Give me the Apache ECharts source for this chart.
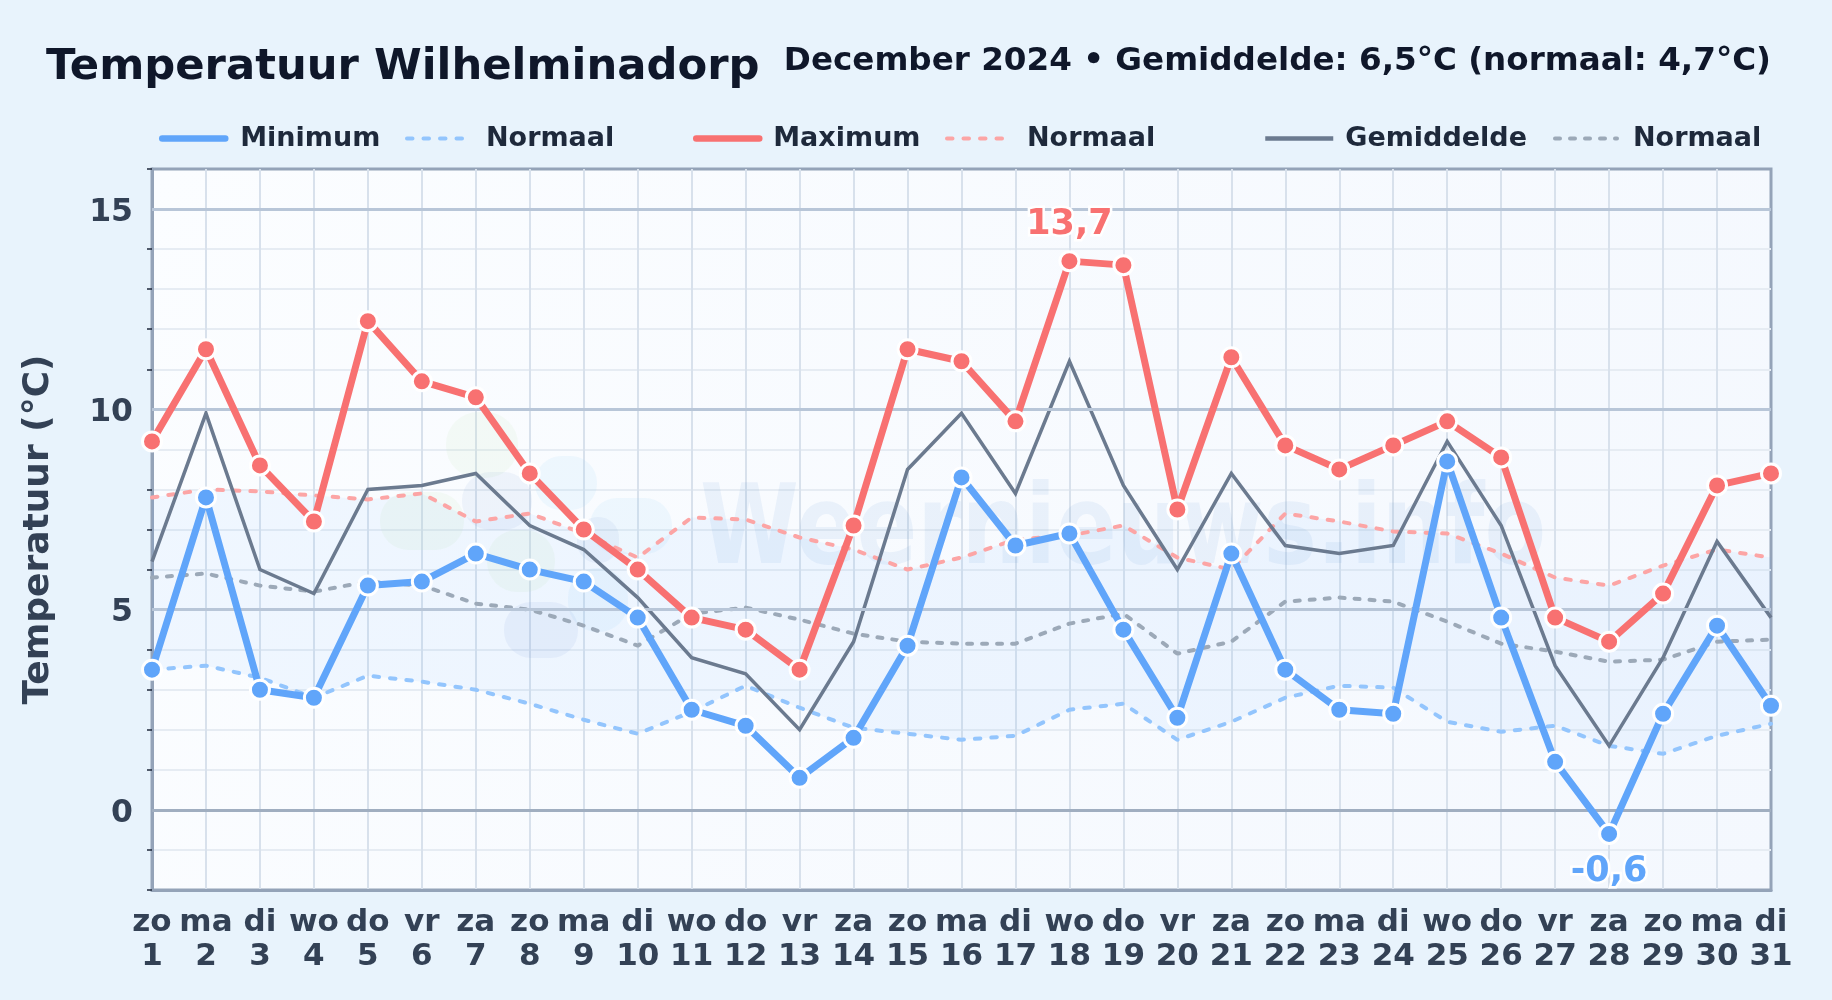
<!DOCTYPE html>
<html><head><meta charset="utf-8">
<style>html,body{margin:0;padding:0;background:#e8f3fc}#c{width:1832px;height:1000px}</style>
<script src="https://cdn.jsdelivr.net/npm/echarts@6/dist/echarts.min.js"></script>
</head><body><div id="c"></div>
<script>
const weekdays = ['zo','ma','di','wo','do','vr','za','zo','ma','di','wo','do','vr','za','zo','ma','di','wo','do','vr','za','zo','ma','di','wo','do','vr','za','zo','ma','di'];
const days = [1,2,3,4,5,6,7,8,9,10,11,12,13,14,15,16,17,18,19,20,21,22,23,24,25,26,27,28,29,30,31];
const tempMin = [3.5,7.8,3.0,2.8,5.6,5.7,6.4,6.0,5.7,4.8,2.5,2.1,0.8,1.8,4.1,8.3,6.6,6.9,4.5,2.3,6.4,3.5,2.5,2.4,8.7,4.8,1.2,-0.6,2.4,4.6,2.6];
const tempMax = [9.2,11.5,8.6,7.2,12.2,10.7,10.3,8.4,7.0,6.0,4.8,4.5,3.5,7.1,11.5,11.2,9.7,13.7,13.6,7.5,11.3,9.1,8.5,9.1,9.7,8.8,4.8,4.2,5.4,8.1,8.4];
const tempMean = [6.2,9.9,6.0,5.4,8.0,8.1,8.4,7.1,6.5,5.3,3.8,3.4,2.0,4.2,8.5,9.9,7.9,11.2,8.1,6.0,8.4,6.6,6.4,6.6,9.2,7.1,3.6,1.6,3.8,6.7,4.8];
const normMin = [3.5,3.6,3.3,2.8,3.35,3.2,3.0,2.65,2.25,1.9,2.45,3.1,2.55,2.05,1.9,1.75,1.85,2.5,2.65,1.75,2.2,2.8,3.1,3.05,2.2,1.95,2.1,1.6,1.4,1.85,2.15];
const normMax = [7.8,8.0,7.95,7.85,7.75,7.9,7.2,7.4,6.9,6.3,7.3,7.25,6.8,6.5,6.0,6.3,6.75,6.85,7.1,6.3,6.0,7.4,7.2,6.95,6.9,6.4,5.8,5.6,6.1,6.5,6.3];
const normMean = [5.8,5.9,5.6,5.45,5.7,5.6,5.15,5.0,4.6,4.1,4.9,5.05,4.75,4.4,4.2,4.15,4.15,4.65,4.9,3.9,4.2,5.2,5.3,5.2,4.7,4.15,3.95,3.7,3.75,4.2,4.25];
const majorLines = [5,10,15];
const zeroLine = [0];
const yMinorTicks = [-2,-1,1,2,3,4,6,7,8,9,11,12,13,14,16];
const yLabels = [0,5,10,15];

const FONT = '"DejaVu Sans"';
const BLUE='#60a5fa', RED='#f87171', GREY='#6b7a8f';
const DASH_A=[5.5,11], DASH_B=[5,10];
const chart = echarts.init(document.getElementById('c'), null, {renderer:'canvas'});
const cats = weekdays.map((w,i)=>w+'\n'+days[i]);
const fmt = v => String(v).replace('.',',');
function marked(arr, idx, color, pos, dist){
  return arr.map((v,i)=> i===idx ? {value:v, label:{show:true, position:pos, distance:dist, formatter:fmt(v), fontFamily:FONT, fontWeight:'bold', fontSize:35, color:color, textBorderColor:'#ffffff', textBorderWidth:5}} : v);
}
const maxIdx = tempMax.indexOf(Math.max(...tempMax));
const minIdx = tempMin.indexOf(Math.min(...tempMin));
function main(name,data,color,z){
  return {name,type:'line',data,z,clip:false,symbol:'circle',symbolSize:19,showSymbol:true,
    lineStyle:{color,width:7,cap:'round',join:'round'},
    itemStyle:{color,borderColor:'#fff',borderWidth:3},emphasis:{disabled:true},animation:false};
}
function dashed(name,data,color,width,dash){
  return {name,type:'line',data,z:3,clip:false,symbol:'none',
    lineStyle:{color,width,type:dash,cap:'round'},itemStyle:{color},emphasis:{disabled:true},animation:false};
}
const legendTop = 125;
// name, icon x, icon width, line width, cap, text x
const legs = [
  ['Minimum',159,63,6.5,'round',237],
  ['Normaal ',405,56,4,'round',484],
  ['Maximum',693,63,6.5,'round',770],
  ['Normaal  ',945,56,4,'round',1025],
  ['Gemiddelde',1263,68,4.5,'butt',1343],
  ['Normaal   ',1553,62,4,'round',1631]
];
// decorative logo behind the data: x,y,w,h,color
const logoBlobs = [
  [446,412,72,66,'rgba(190,225,165,0.10)'],
  [380,492,84,58,'rgba(190,225,165,0.10)'],
  [487,530,68,62,'rgba(190,225,165,0.10)'],
  [535,456,62,54,'rgba(150,205,250,0.11)'],
  [590,498,82,56,'rgba(150,205,250,0.11)'],
  [568,568,60,64,'rgba(150,205,250,0.11)'],
  [462,472,70,58,'rgba(90,130,200,0.07)'],
  [577,517,42,46,'rgba(90,130,200,0.07)'],
  [504,602,74,56,'rgba(90,130,200,0.08)']
];
chart.setOption({
  animation:false,
  backgroundColor:'#e8f3fc',
  textStyle:{fontFamily:FONT},
  title:[
    {text:'Temperatuur Wilhelminadorp',left:46,top:46.5,padding:0,textStyle:{fontFamily:FONT,fontWeight:'bold',fontSize:43.3,color:'#0f172a'}},
    {text:'December 2024 • Gemiddelde: 6,5°C (normaal: 4,7°C)',right:61,top:45,padding:0,textStyle:{fontFamily:FONT,fontWeight:'bold',fontSize:32.6,color:'#0f172a'}}
  ],
  legend:legs.map(([n,x,w,lw,cap,tx])=>({
    data:[n],left:x,top:legendTop,itemWidth:w,itemHeight:26,padding:0,
    selectedMode:false,itemStyle:{opacity:0},
    lineStyle:{width:lw,cap},
    formatter:s=>s.trim(),
    textStyle:{fontFamily:FONT,fontWeight:'bold',fontSize:27,color:'#1e293b',padding:[0,0,0,tx-x-w-5]}
  })),
  grid:{left:152,right:61,top:169,bottom:110,show:true,borderWidth:3,borderColor:'#94a3b8',
    backgroundColor:new echarts.graphic.LinearGradient(0,0,1,1,[{offset:0,color:'#fbfdff'},{offset:1,color:'#f4f8fe'}])},
  xAxis:{type:'category',data:cats,boundaryGap:false,
    axisLine:{show:true,onZero:false,lineStyle:{color:'#94a3b8',width:3}},axisTick:{show:false},
    splitLine:{show:true,interval:0,showMinLine:false,showMaxLine:false,lineStyle:{color:'#d8e1ec',width:2}},
    axisLabel:{interval:0,hideOverlap:false,margin:16,fontFamily:FONT,fontWeight:'bold',fontSize:31,lineHeight:34,color:'#334155'}},
  yAxis:{type:'value',min:-2,max:16,interval:1,
    name:'Temperatuur (°C)',nameLocation:'middle',nameGap:95,nameRotate:90,
    nameTextStyle:{fontFamily:FONT,fontWeight:'bold',fontSize:36,color:'#334155'},
    axisLine:{show:true,lineStyle:{color:'#94a3b8',width:3}},
    axisTick:{show:true,length:5,lineStyle:{color:'#1e293b',width:1.5},customValues:yMinorTicks},
    axisLabel:{margin:19,verticalAlign:'top',lineHeight:7,fontFamily:FONT,fontWeight:'bold',fontSize:31.5,color:'#334155',showMinLabel:true,showMaxLabel:true,
      formatter:v=>yLabels.includes(v)?String(v):''},
    splitLine:{show:true,showMinLine:false,showMaxLine:false,lineStyle:{color:'#e6ecf3',width:2}}},
  graphic:{elements:logoBlobs.map(([x,y,w,h,c])=>({type:'rect',z:1,silent:true,shape:{x,y,width:w,height:h,r:Math.min(w,h)/2.05},style:{fill:c}})).concat([
    {type:'text',z:1,silent:true,x:700,y:534,scaleX:0.815,style:{x:0,y:0,text:'Weernieuws.info',textAlign:'left',textVerticalAlign:'middle',fontFamily:FONT,fontWeight:'bold',fontSize:110,fill:'rgba(60,120,200,0.075)'}}
  ])},
  series:[
    {name:'_band0',type:'line',data:normMin,stack:'band',symbol:'none',lineStyle:{opacity:0},z:1,silent:true,legendHoverLink:false,animation:false,
     markLine:{silent:true,symbol:'none',animation:false,label:{show:false},
       data:majorLines.map(v=>({yAxis:v,lineStyle:{color:'#b8c6d8',width:3,type:'solid'}})).concat(zeroLine.map(v=>({yAxis:v,lineStyle:{color:'#a0aec0',width:3,type:'solid'}})))}},
    {name:'_band1',type:'line',data:normMax.map((v,i)=>+(v-normMin[i]).toFixed(2)),stack:'band',symbol:'none',lineStyle:{opacity:0},z:1,silent:true,animation:false,
     areaStyle:{color:'rgba(96,165,250,0.10)'}},
    dashed('Normaal ',normMin,'#93c5fd',4,DASH_A),
    dashed('Normaal  ',normMax,'#fca5a5',4,DASH_A),
    dashed('Normaal   ',normMean,'#9ca9b8',4,DASH_B),
    {name:'Gemiddelde',type:'line',data:tempMean,z:4,clip:false,symbol:'none',lineStyle:{color:GREY,width:3.5,join:'miter'},itemStyle:{color:GREY},emphasis:{disabled:true},animation:false},
    main('Minimum',marked(tempMin,minIdx,BLUE,'bottom',9),BLUE,6),
    main('Maximum',marked(tempMax,maxIdx,RED,'top',8),RED,5)
  ]
});
</script></body></html>
